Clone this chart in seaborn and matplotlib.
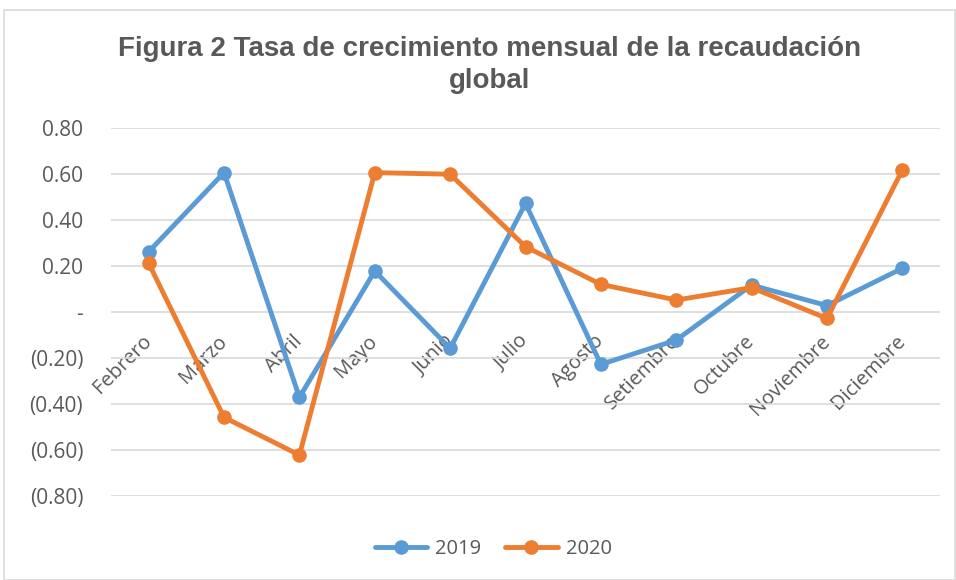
import matplotlib
matplotlib.use("Agg")
import matplotlib.pyplot as plt
import matplotlib.patches as mpatches
import seaborn as sns
import pandas as pd

meses = ["Febrero", "Marzo", "Abril", "Mayo", "Junio", "Julio", "Agosto",
         "Setiembre", "Octubre", "Noviembre", "Diciembre"]
v2019 = [0.262, 0.606, -0.371, 0.178, -0.158, 0.472, -0.228, -0.122, 0.117, 0.028, 0.190]
v2020 = [0.212, -0.458, -0.622, 0.606, 0.599, 0.284, 0.120, 0.052, 0.106, -0.028, 0.617]
yticks = [0.8, 0.6, 0.4, 0.2, 0.0, -0.2, -0.4, -0.6, -0.8]
ytick_labels = ["0.80", "0.60", "0.40", "0.20", "-", "(0.20)", "(0.40)", "(0.60)", "(0.80)"]
titulo = "Figura 2 Tasa de crecimiento mensual de la recaudación\nglobal"

df = pd.DataFrame({
    "idx": list(range(len(meses))) * 2,
    "valor": v2019 + v2020,
    "anio": ["2019"] * len(meses) + ["2020"] * len(meses),
})

sns.set_theme(style="white")
plt.rcParams["font.family"] = ["Open Sans", "DejaVu Sans"]

fig = plt.figure(figsize=(9.56, 5.80), dpi=100)
ax = fig.add_axes([111/956, 1 - 496/580, (940 - 111)/956, (496 - 128)/580])

sns.lineplot(data=df, x="idx", y="valor", hue="anio",
             palette={"2019": "#5B9BD5", "2020": "#ED7D31"},
             marker="o", markersize=10.5, markeredgewidth=0, linewidth=3.5,
             ax=ax, sort=False, legend=True)

ax.set_xlim(-0.5, len(meses) - 0.5)
ax.set_ylim(-0.8, 0.8)
ax.set_yticks(yticks)
ax.set_yticklabels(ytick_labels)
ax.yaxis.grid(True, color="#D9D9D9", linewidth=1.2)
ax.set_axisbelow(True)
for s in ["top", "right", "left"]:
    ax.spines[s].set_visible(False)
ax.spines["bottom"].set_position(("data", 0))
ax.spines["bottom"].set_visible(False)
ax.set_xticks(range(len(meses)))
ax.set_xticklabels(meses, rotation=45, ha="right", va="center",
                   rotation_mode="anchor")
ax.tick_params(axis="x", length=0, pad=19, labelsize=14.5, labelcolor="#595959")
ax.tick_params(axis="y", length=0, pad=20, labelsize=15, labelcolor="#595959")
ax.set_xlabel("")
ax.set_ylabel("")

leg = ax.legend(loc="center", bbox_to_anchor=(0.461, -0.144), ncol=2,
                frameon=False, fontsize=14.5, handlelength=2.6, columnspacing=1.2,
                handletextpad=0.4)
for t in leg.get_texts():
    t.set_color("#595959")

fig.text(490/956, 1 - 65/580, titulo, ha="center", va="center",
         fontsize=20, fontweight="bold", color="#595959",
         family=["Liberation Sans", "DejaVu Sans"], linespacing=1.25)

fig.patches.append(mpatches.Rectangle((4/956, 0), 951/956, 1 - 10/580,
                                      transform=fig.transFigure, fill=False,
                                      edgecolor="#D9D9D9", linewidth=1.2))

fig.savefig("out.png", dpi=100)
